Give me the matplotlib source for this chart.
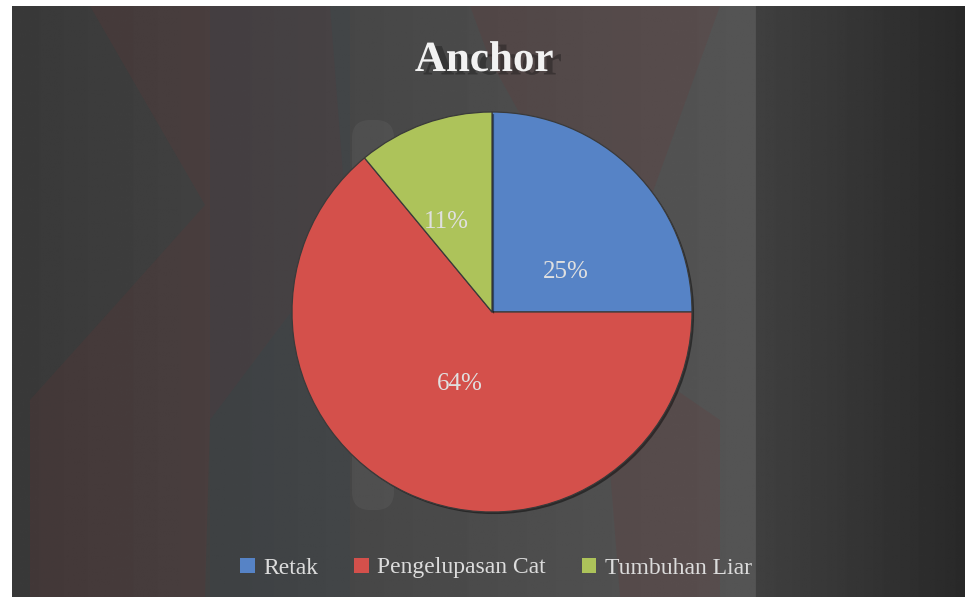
#!/usr/bin/env python3
"""
Pie chart "Anchor": share of damage types.
"""
import matplotlib
matplotlib.use("Agg")
import matplotlib.pyplot as plt
import matplotlib.patheffects as pe
from matplotlib.patches import Polygon, Rectangle, FancyBboxPatch
import numpy as np

title = "Anchor"
categories = ["Retak", "Pengelupasan Cat", "Tumbuhan Liar"]
shares = [25, 64, 11]
colors = ["#5683c6", "#d4504b", "#adc35a"]

# label offsets inside the pie (radius units), as placed in the source chart
label_pos = [(0.37, 0.20), (-0.16, -0.36), (-0.23, 0.45)]

W, H = 965, 597


def px(x, y):
    # pixel coords (origin top-left) -> figure fraction
    return x / W, 1 - y / H


def main() -> None:
    fig = plt.figure(figsize=(W / 100, H / 100), dpi=100, facecolor="white")

    # background: dark gray gradient with a darker panel on the right
    bg = fig.add_axes([0, 0, 1, 1])
    bg.set_xlim(0, W)
    bg.set_ylim(H, 0)
    bg.axis("off")
    xs = np.linspace(0, W, 600)
    prof = np.where(
        xs < 757,
        np.interp(xs, [0, 300, 740, 757], [0.22, 0.27, 0.33, 0.33]),
        np.interp(xs, [757, 965], [0.25, 0.16]),
    )
    grad = np.tile(prof, (50, 1))
    bg.imshow(grad, cmap="gray", vmin=0, vmax=1, extent=[0, W, H, 0], aspect="auto", zorder=0)

    # faint watermark shapes
    red = "#6e3434"
    wm = [
        [(90, 6), (330, 6), (345, 200), (300, 300), (210, 420), (205, 597), (30, 597), (30, 400), (120, 300), (205, 205)],
        [(470, 6), (720, 6), (650, 200), (560, 310), (720, 420), (720, 597), (620, 597), (610, 470), (470, 330), (540, 150), (490, 60)],
    ]
    for pts in wm:
        bg.add_patch(Polygon(pts, closed=True, facecolor=red, edgecolor="none", alpha=0.18, zorder=1))
    bg.add_patch(Rectangle((210, 6), 140, 591, facecolor="#34424d", edgecolor="none", alpha=0.22, zorder=1))
    bg.add_patch(FancyBboxPatch((352, 120), 42, 390, boxstyle="round,pad=0,rounding_size=18",
                                facecolor="#9a9a9a", edgecolor="none", alpha=0.10, zorder=1))

    # white margins (left and top)
    bg.add_patch(Rectangle((0, 0), 11.5, H, facecolor="white", edgecolor="none", zorder=2))
    bg.add_patch(Rectangle((0, 0), W, 5.5, facecolor="white", edgecolor="none", zorder=2))

    # pie
    cx, cy, r = 492, 312, 200
    left, bottom = px(cx - r, cy + r)
    ax = fig.add_axes([left, bottom, 2 * r / W, 2 * r / H])
    ax.patch.set_alpha(0)
    wedges, texts, autotexts = ax.pie(
        shares,
        colors=colors,
        startangle=90,
        counterclock=False,
        autopct="%d%%",
        wedgeprops=dict(edgecolor="#3a3a3a", linewidth=0.9),
        textprops=dict(color="#e0e0e0", fontsize=18, family="Liberation Serif"),
    )
    for w in wedges:
        w.set_path_effects([pe.SimplePatchShadow(offset=(1.5, -1.5), shadow_rgbFace="black", alpha=0.45), pe.Normal()])
    for t, (lx, ly) in zip(autotexts, label_pos):
        t.set_position((lx, ly))
    ax.set_xlim(-1, 1)
    ax.set_ylim(-1, 1)
    ax.set_aspect("auto")
    ax.axis("off")

    # title with soft shadow
    tx, ty = px(484, 61)
    fig.text(tx, ty, title, ha="center", va="center", fontsize=31, fontweight="bold",
             family="Liberation Serif", color="#f2f2f2",
             path_effects=[pe.withSimplePatchShadow(offset=(6, -2.5), shadow_rgbFace="#111111", alpha=0.35)])

    # legend
    lx, ly = px(496, 568)
    leg = fig.legend(wedges, categories, loc="center", bbox_to_anchor=(lx, ly), ncol=3,
                     frameon=False, handlelength=0.6, handleheight=0.6, handletextpad=0.35,
                     columnspacing=1.55, prop=dict(family="Liberation Serif", size=17))
    for h in leg.legend_handles:
        h.set_edgecolor("none")
        h.set_path_effects([])
    for t in leg.get_texts():
        t.set_color("#dcdcdc")

    fig.savefig("out.png", dpi=100, facecolor="white")
    plt.close(fig)


if __name__ == "__main__":
    main()
